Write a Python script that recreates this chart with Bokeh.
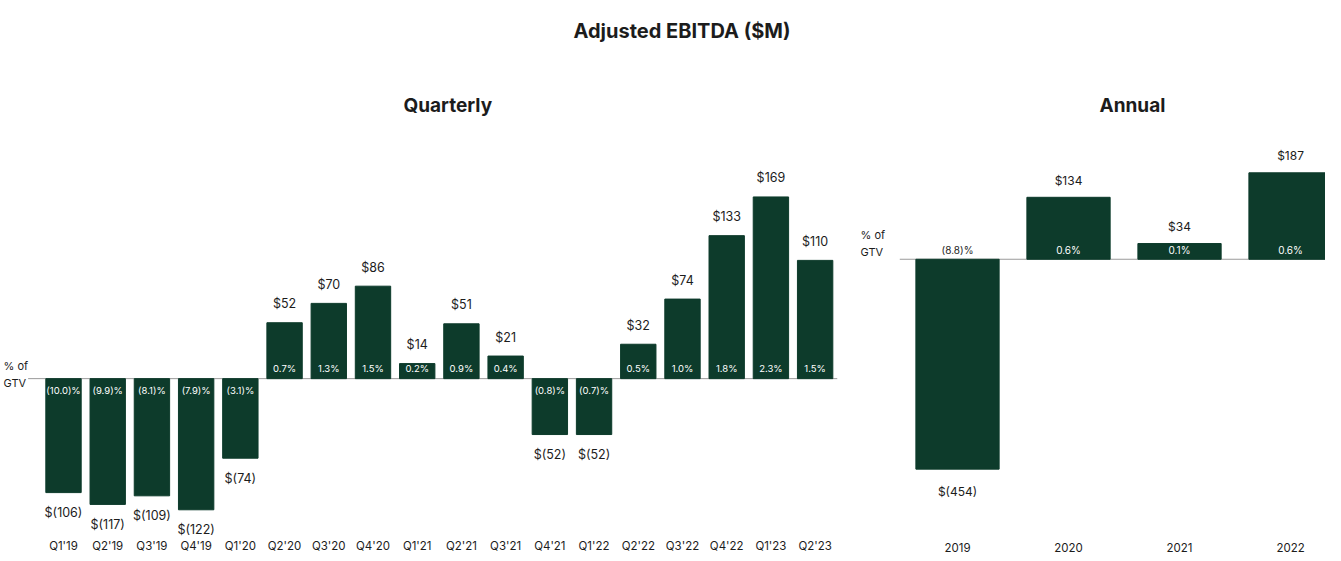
from bokeh.plotting import figure
from bokeh.models import Range1d, FixedTicker, Div, ColumnDataSource, Title
from bokeh.layouts import row, column
from bokeh.embed import file_html
from bokeh.resources import INLINE
from bokeh.core.properties import value

# ---------------- data ----------------
quarters = ["Q1'19", "Q2'19", "Q3'19", "Q4'19", "Q1'20", "Q2'20", "Q3'20", "Q4'20",
            "Q1'21", "Q2'21", "Q3'21", "Q4'21", "Q1'22", "Q2'22", "Q3'22", "Q4'22",
            "Q1'23", "Q2'23"]
q_ebitda = [-106, -117, -109, -122, -74, 52, 70, 86, 14, 51, 21, -52, -52, 32, 74, 133, 169, 110]
q_pct = [-10.0, -9.9, -8.1, -7.9, -3.1, 0.7, 1.3, 1.5, 0.2, 0.9, 0.4, -0.8, -0.7, 0.5, 1.0, 1.8, 2.3, 1.5]

years = ["2019", "2020", "2021", "2022"]
y_ebitda = [-454, 134, 34, 187]
y_pct = [-8.8, 0.6, 0.1, 0.6]

GREEN = "#0d3b2b"
TXT = "#1c1c1c"
FONT = "Inter"


def money(v):
    return f"${v}" if v >= 0 else f"$({-v})"


def pct(p):
    return f"{p:.1f}%" if p >= 0 else f"({-p:.1f})%"


def base_fig(width, xr, yr, title, title_offset, label_standoff):
    p = figure(width=width, height=495, x_range=xr, y_range=yr,
               output_backend="svg", toolbar_location=None, y_axis_location=None,
               min_border_left=0, min_border_right=0, min_border_bottom=0, min_border_top=67)
    p.add_layout(Title(text=title, align="left", text_font_size="19px", offset=title_offset,
                       standoff=22, text_font=FONT, text_font_style="bold", text_color=TXT), "above")
    p.xgrid.visible = False
    p.ygrid.visible = False
    p.outline_line_color = None
    p.background_fill_color = "white"
    p.border_fill_color = "white"
    ax = p.xaxis[0]
    ax.axis_line_color = None
    ax.major_tick_line_color = None
    ax.minor_tick_line_color = None
    ax.major_tick_out = 0
    ax.major_tick_in = 0
    ax.major_label_standoff = label_standoff
    ax.major_label_text_font = FONT
    ax.major_label_text_font_size = "11.5px"
    ax.major_label_text_color = TXT
    return p


# ---------------- quarterly ----------------
qi = list(range(len(quarters)))
p1 = base_fig(850, Range1d(-1.425, 17.8), Range1d(-148.7, 233.6), "Quarterly", 403, 0)
p1.xaxis[0].ticker = FixedTicker(ticks=qi)
p1.xaxis[0].major_label_overrides = {i: q for i, q in zip(qi, quarters)}

p1.segment(x0=[-0.8], y0=[0], x1=[len(quarters) - 0.5], y1=[0], line_color="#9a9a9a", line_width=1)
p1.vbar(x=qi, top=q_ebitda, width=0.8, fill_color=GREEN, line_color=GREEN)

qsrc = ColumnDataSource(dict(
    x=qi, y=q_ebitda,
    lab=[money(v) for v in q_ebitda],
    off=[-19 if v >= 0 else 20 for v in q_ebitda],
    plab=[pct(p) for p in q_pct],
    poff=[-10 if p >= 0 else 12 for p in q_pct],
    zero=[0] * len(qi),
))
p1.text(x="x", y="y", text="lab", y_offset="off", source=qsrc, text_align="center",
        text_baseline="middle", text_font=value(FONT), text_font_size="12.5px", text_color=TXT)
p1.text(x="x", y="zero", text="plab", y_offset="poff", source=qsrc, text_align="center",
        text_baseline="middle", text_font=value(FONT), text_font_size="9.5px", text_color="white")
p1.text(x=[-1.425, -1.425], y=[0, 0], text=["% of", "GTV"], x_offset=[3, 3], y_offset=[-13, 4],
        text_align="left", text_baseline="middle", text_font=value(FONT),
        text_font_size="11px", text_color=TXT)

# ---------------- annual ----------------
yi = list(range(len(years)))
p2 = base_fig(475, Range1d(-0.964, 3.315), Range1d(-604, 285), "Annual", 249, 4)
p2.xaxis[0].ticker = FixedTicker(ticks=yi)
p2.xaxis[0].major_label_overrides = {i: y for i, y in zip(yi, years)}

p2.segment(x0=[-0.52], y0=[0], x1=[len(years) - 0.5], y1=[0], line_color="#9a9a9a", line_width=1)
p2.vbar(x=yi, top=y_ebitda, width=0.75, fill_color=GREEN, line_color=GREEN)

ysrc = ColumnDataSource(dict(
    x=yi, y=y_ebitda,
    lab=[money(v) for v in y_ebitda],
    off=[-17 if v >= 0 else 22 for v in y_ebitda],
    plab=[pct(p) for p in y_pct],
    pcol=["white" if p >= 0 else TXT for p in y_pct],
    zero=[0] * len(yi),
))
p2.text(x="x", y="y", text="lab", y_offset="off", source=ysrc, text_align="center",
        text_baseline="middle", text_font=value(FONT), text_font_size="12px", text_color=TXT)
p2.text(x="x", y="zero", text="plab", y_offset=-9, source=ysrc, text_align="center",
        text_baseline="middle", text_font=value(FONT), text_font_size="10px", text_color="pcol")
p2.text(x=[-0.964, -0.964], y=[0, 0], text=["% of", "GTV"], x_offset=[10, 10], y_offset=[-24, -7],
        text_align="left", text_baseline="middle", text_font=value(FONT),
        text_font_size="11px", text_color=TXT)

head = Div(text=f'<div style="box-sizing:border-box;width:1325px;padding-left:29px;text-align:center;'
                f'font-family:{FONT};font-weight:bold;font-size:20px;color:{TXT};padding-top:12px;">'
                f'Adjusted EBITDA ($M)</div>',
           width=1325, height=50)

layout = column(head, row(p1, p2, spacing=0), spacing=0)

with open("out.html", "w") as f:
    f.write(file_html(layout, INLINE))
